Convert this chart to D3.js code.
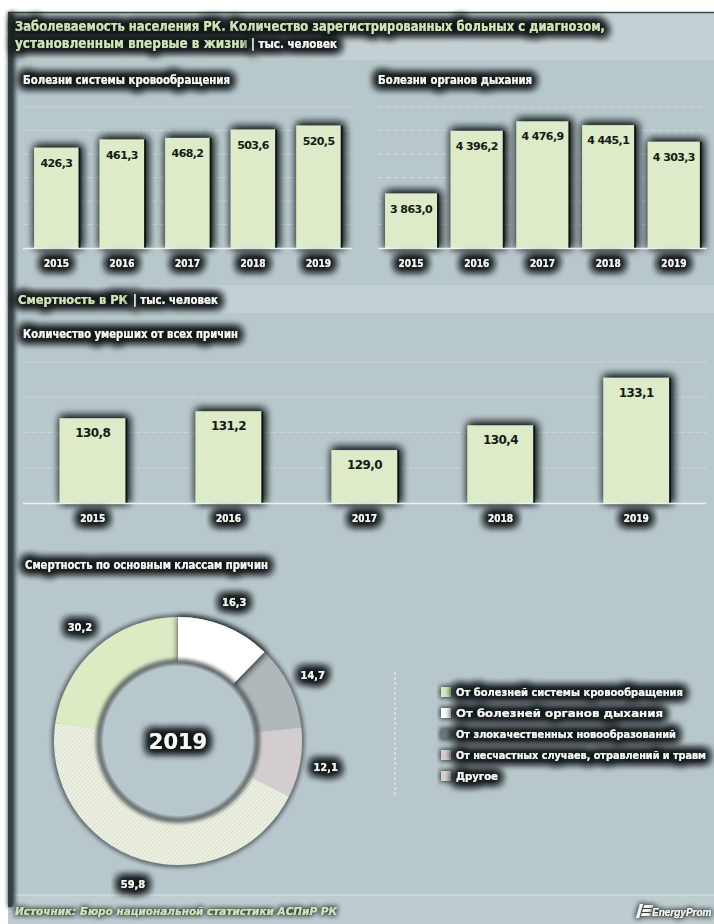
<!DOCTYPE html>
<html>
<head>
<meta charset="utf-8">
<script src="https://cdn.jsdelivr.net/npm/d3@7"></script>
<style>
  html, body { margin: 0; padding: 0; background: #ffffff; }
  svg { display: block; }
</style>
</head>
<body>
<svg id="chart" width="714" height="924"></svg>
<script>
// ---- data ----
const years = ["2015", "2016", "2017", "2018", "2019"];
const circulatoryCases = [426.3, 461.3, 468.2, 503.6, 520.5];
const respiratoryCases = [3863.0, 4396.2, 4476.9, 4445.1, 4303.3];
const deathsAllCauses = [130.8, 131.2, 129.0, 130.4, 133.1];
const circulatoryTicks = [100, 200, 300, 400, 500, 600];
const respiratoryTicks = [3600, 3800, 4000, 4200, 4400, 4600];
const deathsTicks = [128, 130, 132, 134];
const causeNames = [
  "От болезней системы кровообращения",
  "От болезней органов дыхания",
  "От злокачественных новообразований",
  "От несчастных случаев, отравлений и травм",
  "Другое"
];
const causeDeaths = [30.2, 16.3, 14.7, 12.1, 59.8];
const donutYear = "2019";

// ---- styles ----
const BG = "#b8c7cb";
const BAND = "#c4d0d3";
const BAR = "#deebc8";
const TITLE_GREEN = "#d0e4b6";
const WHITE = "#f6f8f3";
const FONT = "'DejaVu Sans Condensed', 'Liberation Sans Narrow', 'Roboto', 'DejaVu Sans', sans-serif";
const NUM_FONT = "'DejaVu Sans', 'Liberation Sans', sans-serif";
const causeFill = ["#dcebc4", "#ffffff", "#b0b8b9", "#d3cdcf", "url(#hatch)"];
const legendFill = ["#d9eabf", "#ffffff", "#68777b", "#d8cdcf", "#d4cfcf"];

const ru = d3.formatLocale({ decimal: ",", thousands: "\u00a0", grouping: [3], currency: ["", ""] });
const fmt = ru.format(",.1f");

const svg = d3.select("#chart");
const defs = svg.append("defs");

// dark glow behind text and marks
function haloFilter(id, blur, opacity, dilate, dx, dy, layers) {
  const f = defs.append("filter").attr("id", id)
    .attr("x", "-40%").attr("y", "-150%").attr("width", "180%").attr("height", "400%");
  f.append("feMorphology").attr("in", "SourceAlpha").attr("operator", "dilate").attr("radius", dilate).attr("result", "d");
  f.append("feGaussianBlur").attr("in", "d").attr("stdDeviation", blur).attr("result", "b");
  f.append("feOffset").attr("in", "b").attr("dx", dx).attr("dy", dy).attr("result", "o");
  f.append("feFlood").attr("flood-color", "#131b1d").attr("flood-opacity", opacity);
  f.append("feComposite").attr("in2", "o").attr("operator", "in").attr("result", "s");
  const m = f.append("feMerge");
  for (let k = 0; k < layers; k++) m.append("feMergeNode").attr("in", "s");
  m.append("feMergeNode").attr("in", "SourceGraphic");
}
haloFilter("halo", 4, 0.85, 2.5, 0, 0, 3);
haloFilter("haloSoft", 2.6, 0.85, 1, 0, 0, 1);
haloFilter("barShadow", 4.5, 0.9, 1, 2, -1, 2);
haloFilter("ringShadow", 3, 0.9, 1, 1, 0, 1);

const blur = defs.append("filter").attr("id", "blur").attr("x", "-50%").attr("y", "-50%").attr("width", "200%").attr("height", "200%");
blur.append("feGaussianBlur").attr("stdDeviation", 2);

const hatch = defs.append("pattern").attr("id", "hatch").attr("patternUnits", "userSpaceOnUse")
  .attr("width", 3).attr("height", 3).attr("patternTransform", "rotate(45)");
hatch.append("rect").attr("width", 3).attr("height", 3).attr("fill", "#ecf1e2");
hatch.append("line").attr("x1", 0).attr("y1", 0).attr("x2", 0).attr("y2", 3)
  .attr("stroke", "#c9cfc3").attr("stroke-width", 1);

// ---- background & bands ----
svg.append("rect").attr("x", 8).attr("y", 12).attr("width", 706).attr("height", 912).attr("fill", BG);
function band(y, h) {
  svg.append("rect").attr("x", 8).attr("y", y).attr("width", 706).attr("height", h).attr("fill", BAND);
  svg.append("line").attr("x1", 8).attr("x2", 714).attr("y1", y + h + 1).attr("y2", y + h + 1)
    .attr("stroke", "#55656a").attr("stroke-width", 2).attr("opacity", 0.55).attr("filter", "url(#blur)");
}
band(12, 48);
band(285, 28);
svg.append("rect").attr("x", 8).attr("y", 895).attr("width", 706).attr("height", 29).attr("fill", "#bfcccf");
svg.append("line").attr("x1", 8).attr("x2", 714).attr("y1", 895).attr("y2", 895)
  .attr("stroke", "#e2e9ea").attr("stroke-width", 1).attr("opacity", 0.8);
svg.append("line").attr("x1", 8).attr("x2", 714).attr("y1", 12.5).attr("y2", 12.5)
  .attr("stroke", "#3b474a").attr("stroke-width", 1.5);
// left edge strip
svg.append("rect").attr("x", 8).attr("y", 12).attr("width", 7).attr("height", 895)
  .attr("fill", "#2c383b").attr("filter", "url(#blur)");
svg.append("rect").attr("x", 8).attr("y", 12).attr("width", 4).attr("height", 895).attr("fill", "#33403f");

// ---- text helper ----
function label(x, y, str, opts) {
  const t = svg.append("text").attr("x", x).attr("y", y).text(str)
    .attr("font-family", opts.family || FONT)
    .attr("font-size", opts.size || 12)
    .attr("font-weight", opts.weight || "bold")
    .attr("fill", opts.fill || WHITE)
    .attr("text-anchor", opts.anchor || "start");
  if (opts.italic) t.attr("font-style", "italic");
  if (opts.len) t.attr("textLength", opts.len).attr("lengthAdjust", "spacingAndGlyphs");
  if (opts.filter) t.attr("filter", "url(#" + opts.filter + ")");
  return t;
}

// ---- titles ----
label(15, 31, "Заболеваемость населения РК.  Количество зарегистрированных больных с диагнозом,",
  { size: 14, fill: TITLE_GREEN, len: 590, filter: "halo" });
label(15, 48, "установленным впервые в жизни", { size: 14, fill: TITLE_GREEN, len: 233, filter: "halo" });
label(251, 48, "| тыс. человек", { size: 12, fill: WHITE, len: 86, filter: "halo" });
label(23, 84, "Болезни системы кровообращения", { size: 12, len: 207, filter: "halo" });
label(378, 84, "Болезни органов дыхания", { size: 12, len: 154, filter: "halo" });

label(18, 304, "Смертность в РК", { size: 13, fill: TITLE_GREEN, len: 110, filter: "halo" });
label(133, 304, "| тыс. человек", { size: 12, fill: WHITE, len: 85, filter: "halo" });
label(23, 338, "Количество умерших от всех причин", { size: 12, len: 215, filter: "halo" });
label(25, 569, "Смертность по основным классам причин", { size: 12, len: 243, filter: "halo" });

// ---- bar charts ----
function barChart(cfg) {
  const g = svg.append("g");
  const x = d3.scaleBand().domain(years).range(cfg.xRange)
    .paddingInner(cfg.padIn).paddingOuter(cfg.padOut);
  const y = d3.scaleLinear().domain(cfg.domain).range(cfg.yRange);

  // dashed gridlines
  g.selectAll("line.grid").data(cfg.ticks).join("line")
    .attr("x1", cfg.xRange[0]).attr("x2", cfg.xRange[1])
    .attr("y1", d => y(d)).attr("y2", d => y(d))
    .attr("stroke", "#e4ebec").attr("stroke-width", 1.2)
    .attr("stroke-dasharray", "5,3").attr("opacity", 0.55);

  const data = years.map((yr, i) => ({ yr, v: cfg.values[i] }));
  g.selectAll("rect.bar").data(data).join("rect")
    .attr("x", d => x(d.yr)).attr("width", x.bandwidth())
    .attr("y", d => y(d.v)).attr("height", d => y(cfg.domain[0]) - y(d.v))
    .attr("fill", BAR).attr("filter", "url(#barShadow)");
  // thin dark right edge
  g.selectAll("line.edge").data(data).join("line")
    .attr("x1", d => x(d.yr) + x.bandwidth() + 0.8).attr("x2", d => x(d.yr) + x.bandwidth() + 0.8)
    .attr("y1", d => y(d.v)).attr("y2", y(cfg.domain[0]))
    .attr("stroke", "#0e1515").attr("stroke-width", 1.8);

  // baseline
  g.append("line").attr("x1", cfg.xRange[0]).attr("x2", cfg.xRange[1])
    .attr("y1", y(cfg.domain[0]) + 0.5).attr("y2", y(cfg.domain[0]) + 0.5)
    .attr("stroke", "#eef2f0").attr("stroke-width", 1.6);

  // value labels
  g.selectAll("text.val").data(data).join("text")
    .attr("x", d => x(d.yr) + x.bandwidth() / 2).attr("y", d => y(d.v) + 19)
    .attr("text-anchor", "middle")
    .attr("font-family", NUM_FONT).attr("font-weight", "bold")
    .attr("font-size", cfg.valSize).attr("letter-spacing", "-0.6")
    .attr("fill", "#141a14")
    .text(d => fmt(d.v));

  // year labels
  const ax = d3.axisBottom(x).tickSize(0).tickPadding(0);
  const axG = g.append("g").attr("transform", `translate(0,${y(cfg.domain[0]) + 19})`).call(ax);
  axG.select(".domain").remove();
  axG.selectAll("text")
    .attr("font-family", FONT).attr("font-weight", "bold").attr("font-size", 10)
    .attr("fill", WHITE).attr("dy", 0).attr("filter", "url(#halo)");
}

barChart({ values: circulatoryCases, xRange: [23, 352], padIn: 0.32, padOut: 0.17,
  domain: [0, 600], yRange: [248, 107], ticks: circulatoryTicks, valSize: 11 });
barChart({ values: respiratoryCases, xRange: [378, 707], padIn: 0.206, padOut: 0.107,
  domain: [3400, 4600], yRange: [248, 107], ticks: respiratoryTicks, valSize: 11 });
barChart({ values: deathsAllCauses, xRange: [23, 706], padIn: 0.515, padOut: 0.27,
  domain: [126, 134], yRange: [503, 362], ticks: deathsTicks, valSize: 12 });

// ---- donut ----
const cx = 178, cy = 741, rOuter = 124, rInner = 79;
const total = d3.sum(causeDeaths);
const start = -2 * Math.PI * causeDeaths[0] / total;
const pie = d3.pie().sort(null).value(d => d).startAngle(start).endAngle(start + 2 * Math.PI);
const arcs = pie(causeDeaths);
const arc = d3.arc().innerRadius(rInner).outerRadius(rOuter);
const labelArc = d3.arc().innerRadius(150).outerRadius(150);
const dg = svg.append("g").attr("transform", `translate(${cx},${cy})`);

// outer dark rim
dg.append("circle").attr("r", rOuter).attr("fill", "none")
  .attr("stroke", "#1a2426").attr("stroke-width", 4).attr("opacity", 0.75).attr("filter", "url(#blur)");
dg.selectAll("path.seg").data(arcs).join("path")
  .attr("d", arc).attr("fill", (d, i) => causeFill[i]);
// raised white segment
dg.append("path").datum(arcs[1]).attr("d", arc).attr("fill", causeFill[1]).attr("filter", "url(#ringShadow)");
// dark inner rim around the hole
dg.append("circle").attr("r", rInner).attr("fill", BG)
  .attr("stroke", "#141d1f").attr("stroke-width", 4).attr("filter", "url(#blur)");
dg.append("circle").attr("r", rInner - 4).attr("fill", BG);

dg.selectAll("text.pct").data(arcs).join("text")
  .attr("transform", d => `translate(${labelArc.centroid(d)})`)
  .attr("dy", "0.35em").attr("text-anchor", "middle")
  .attr("font-family", FONT).attr("font-weight", "bold").attr("font-size", 11)
  .attr("fill", WHITE).attr("filter", "url(#halo)")
  .text(d => fmt(d.data));

dg.append("text").attr("y", 8).attr("text-anchor", "middle")
  .attr("font-family", "'DejaVu Sans', sans-serif").attr("font-weight", "bold").attr("font-size", 21)
  .attr("fill", WHITE).attr("filter", "url(#halo)").text(donutYear);

// ---- legend ----
svg.append("line").attr("x1", 395).attr("x2", 395).attr("y1", 672).attr("y2", 797)
  .attr("stroke", "#e4ebe6").attr("stroke-width", 1.4).attr("stroke-dasharray", "3,2").attr("opacity", 0.85);
const legendLen = [227, 207, 220, 250, 42];
const lg = svg.append("g");
causeNames.forEach((name, i) => {
  const yy = 692 + i * 21;
  lg.append("rect").attr("x", 441).attr("y", yy - 5).attr("width", 10).attr("height", 10)
    .attr("fill", legendFill[i]).attr("filter", "url(#haloSoft)");
  label(456, yy + 4, name, { size: 11, len: legendLen[i], filter: "halo" });
});

// ---- footer ----
label(15, 915, "Источник: Бюро национальной статистики АСПиР РК",
  { size: 11, italic: true, fill: TITLE_GREEN, len: 322, filter: "haloSoft" });
const logo = svg.append("g").attr("filter", "url(#haloSoft)");
[0, 4, 8].forEach(o => {
  logo.append("path")
    .attr("d", `M${642 + (8 - o) * 0.3},${905 + o} l9,0 l-1,3 l-9,0 z`)
    .attr("fill", WHITE);
});
logo.append("path").attr("d", "M640,904 l3,0 l-4,14 l-3,0 z").attr("fill", WHITE);
label(652, 916, "EnergyProm", { size: 10, italic: true, fill: WHITE,
  family: "'Liberation Sans', 'DejaVu Sans', sans-serif", filter: "haloSoft" });
</script>
</body>
</html>
